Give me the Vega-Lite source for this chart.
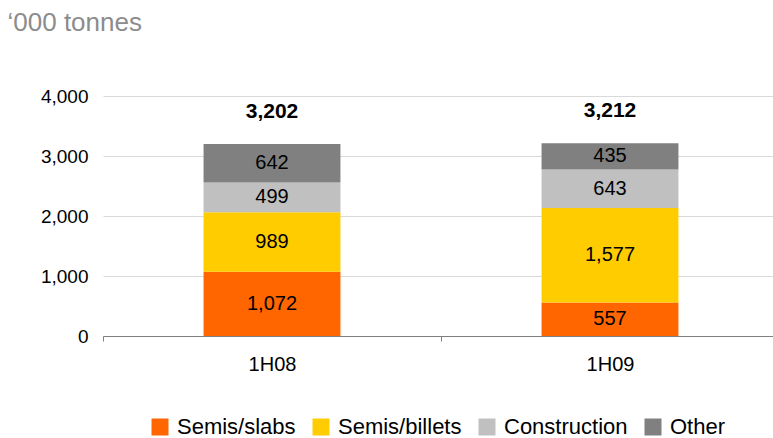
{
  "$schema": "https://vega.github.io/schema/vega-lite/v6.json",
  "width": 670,
  "height": 240,
  "autosize": {"type": "none"},
  "padding": {"left": 103, "top": 96, "right": 0, "bottom": 102},
  "background": "white",
  "config": {
    "view": {"stroke": null},
    "font": "Liberation Sans",
    "text": {"font": "Liberation Sans"}
  },
  "data": {
    "values": [
      {"period": "1H08", "category": "Semis/slabs", "order": 1, "value": 1072},
      {"period": "1H08", "category": "Semis/billets", "order": 2, "value": 989},
      {"period": "1H08", "category": "Construction", "order": 3, "value": 499},
      {"period": "1H08", "category": "Other", "order": 4, "value": 642},
      {"period": "1H09", "category": "Semis/slabs", "order": 1, "value": 557},
      {"period": "1H09", "category": "Semis/billets", "order": 2, "value": 1577},
      {"period": "1H09", "category": "Construction", "order": 3, "value": 643},
      {"period": "1H09", "category": "Other", "order": 4, "value": 435}
    ]
  },
  "layer": [
    {
      "mark": {"type": "bar"},
      "encoding": {
        "x": {
          "field": "period", "type": "nominal",
          "scale": {"range": [0, 676], "paddingInner": 0.595, "paddingOuter": 0.2975},
          "axis": {
            "title": null, "labelAngle": 0, "labelFontSize": 20, "labelColor": "#000000",
            "labelFont": "Liberation Sans", "domainColor": "#7f7f7f", "tickColor": "#7f7f7f",
            "tickOffset": -169, "labelOffset": 169, "tickSize": 5, "labelPadding": 13, "grid": false
          }
        },
        "y": {
          "field": "value", "type": "quantitative", "aggregate": "sum",
          "stack": "zero",
          "scale": {"domain": [0, 4000]},
          "axis": {
            "title": "‘000 tonnes", "titleAngle": 0, "titleX": -96, "titleY": -66,
            "titleAlign": "left", "titleBaseline": "alphabetic", "titleFontSize": 26,
            "titleFontWeight": "normal", "titleColor": "#8c8c8c", "titleFont": "Liberation Sans",
            "values": [0, 1000, 2000, 3000, 4000], "labelOverlap": false,
            "format": ",d", "labelFontSize": 19, "labelColor": "#000000", "labelFont": "Liberation Sans",
            "domain": false, "ticks": false, "labelPadding": 15,
            "gridColor": "#d9d9d9", "gridWidth": 1
          }
        },
        "color": {
          "field": "category", "type": "nominal",
          "sort": ["Semis/slabs", "Semis/billets", "Construction", "Other"],
          "scale": {
            "domain": ["Semis/slabs", "Semis/billets", "Construction", "Other"],
            "range": ["#ff6600", "#ffcc00", "#c0c0c0", "#808080"]
          },
          "legend": {
            "title": null, "orient": "none", "direction": "horizontal",
            "legendX": 46, "legendY": 320,
            "symbolType": "square", "symbolSize": 289, "symbolStrokeWidth": 0,
            "labelFontSize": 22, "labelColor": "#000000", "labelFont": "Liberation Sans",
            "labelOffset": 6, "columnPadding": 14
          }
        },
        "order": {"field": "order", "type": "quantitative", "sort": "ascending"}
      }
    },
    {
      "transform": [
        {"stack": "value", "groupby": ["period"], "sort": [{"field": "order", "order": "ascending"}], "as": ["v0", "v1"]},
        {"calculate": "(datum.v0 + datum.v1) / 2", "as": "mid"}
      ],
      "mark": {"type": "text", "fontSize": 20, "color": "#000000", "baseline": "middle", "align": "center"},
      "encoding": {
        "x": {"field": "period", "type": "nominal"},
        "y": {"field": "mid", "type": "quantitative"},
        "text": {"field": "value", "type": "quantitative", "format": ",d"}
      }
    },
    {
      "transform": [
        {"aggregate": [{"op": "sum", "field": "value", "as": "total"}], "groupby": ["period"]}
      ],
      "mark": {"type": "text", "fontSize": 21, "fontWeight": "bold", "color": "#000000", "baseline": "middle", "align": "center", "dy": -32},
      "encoding": {
        "x": {"field": "period", "type": "nominal"},
        "y": {"field": "total", "type": "quantitative"},
        "text": {"field": "total", "type": "quantitative", "format": ",d"}
      }
    }
  ]
}
